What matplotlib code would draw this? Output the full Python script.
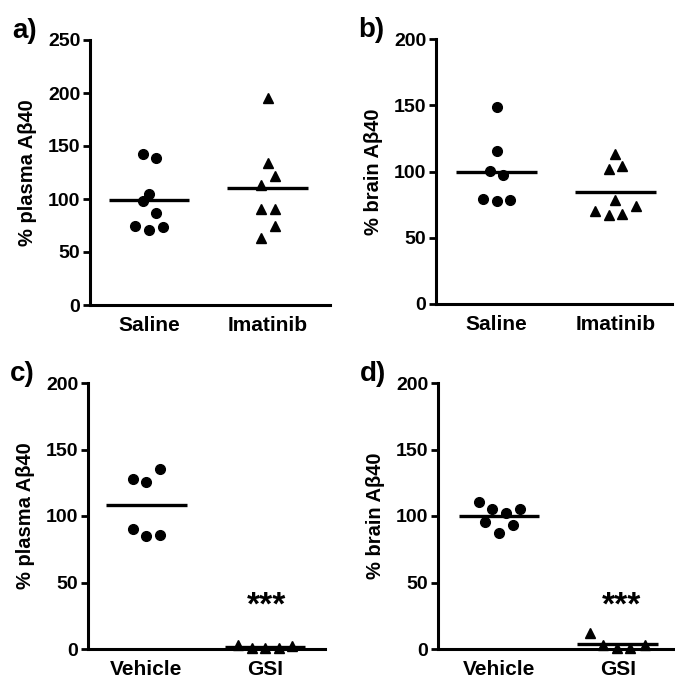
import numpy as np
import matplotlib
matplotlib.use('Agg')
import matplotlib.pyplot as plt

plt.rcParams['font.family'] = ['Liberation Sans', 'DejaVu Sans']
plt.rcParams['font.weight'] = 'bold'

# a) plasma, saline vs imatinib
a_saline = [142, 139, 105, 98, 87, 75, 71, 74]
a_saline_dx = [-0.056, 0.056, 0, -0.056, 0.056, -0.121, 0, 0.113]
a_imatinib = [195, 134, 122, 113, 91, 91, 74.5, 63.5]
a_imatinib_dx = [0, 0, 0.062, -0.056, -0.056, 0.062, 0.062, -0.056]

# b) brain, saline vs imatinib
b_saline = [148.4, 115.6, 100.5, 97, 79.6, 77.6, 78.8]
b_saline_dx = [0, 0, -0.056, 0.056, -0.113, 0, 0.113]
b_imatinib = [113, 102, 104.5, 78.6, 70.5, 67.2, 67.8, 73.6]
b_imatinib_dx = [0, -0.056, 0.056, 0, -0.169, -0.056, 0.056, 0.175]

# c) plasma, vehicle vs GSI
c_vehicle = [127.8, 125.8, 135.6, 90.5, 85, 85.7]
c_vehicle_dx = [-0.113, 0, 0.118, -0.113, 0, 0.118]
c_gsi = [3, 1, 0.5, 1, 2]
c_gsi_dx = [-0.228, -0.110, 0, 0.118, 0.228]

# d) brain, vehicle vs GSI
d_vehicle = [110.3, 105.3, 102.3, 105.5, 95.2, 93.5, 86.9]
d_vehicle_dx = [-0.172, -0.056, 0.056, 0.175, -0.115, 0.118, 0]
d_gsi = [12, 3, 1, 1, 3]
d_gsi_dx = [-0.231, -0.127, -0.011, 0.099, 0.225]

panels = [
    dict(rect=[90, 40, 330, 305], letter='a)', ylab='% plasma A\u03b240', ymax=250,
         yt=[0, 50, 100, 150, 200, 250], cats=['Saline', 'Imatinib'],
         groups=[(a_saline, a_saline_dx), (a_imatinib, a_imatinib_dx)],
         xlim=(-0.50, 1.527), stars=None),
    dict(rect=[436, 39, 672, 304], letter='b)', ylab='% brain A\u03b240', ymax=200,
         yt=[0, 50, 100, 150, 200], cats=['Saline', 'Imatinib'],
         groups=[(b_saline, b_saline_dx), (b_imatinib, b_imatinib_dx)],
         xlim=(-0.513, 1.479), stars=None),
    dict(rect=[88, 383, 325, 649], letter='c)', ylab='% plasma A\u03b240', ymax=200,
         yt=[0, 50, 100, 150, 200], cats=['Vehicle', 'GSI'],
         groups=[(c_vehicle, c_vehicle_dx), (c_gsi, c_gsi_dx)],
         xlim=(-0.493, 1.507), stars=(1.01, 32)),
    dict(rect=[438, 383, 673, 649], letter='d)', ylab='% brain A\u03b240', ymax=200,
         yt=[0, 50, 100, 150, 200], cats=['Vehicle', 'GSI'],
         groups=[(d_vehicle, d_vehicle_dx), (d_gsi, d_gsi_dx)],
         xlim=(-0.515, 1.465), stars=(1.03, 32)),
]

W, H = 675, 679
fig = plt.figure(figsize=(W / 100, H / 100), dpi=100)

for p in panels:
    x0, y0, x1, y1 = p['rect']
    ax = fig.add_axes([x0 / W, 1 - y1 / H, (x1 - x0) / W, (y1 - y0) / H])
    markers = ['o', '^']
    for i, (vals, dx) in enumerate(p['groups']):
        xs = i + np.array(dx)
        ax.plot(xs, vals, linestyle='none', marker=markers[i], color='black',
                markersize=7 if i == 0 else 7.5, clip_on=False, zorder=3)
        m = np.mean(vals)
        ax.plot([i - 0.34, i + 0.34], [m, m], color='black', lw=2.4, zorder=4,
                solid_capstyle='butt')
    ax.set_xlim(*p['xlim'])
    ax.set_ylim(0, p['ymax'])
    ax.set_yticks(p['yt'])
    ax.set_xticks([0, 1])
    ax.set_xticklabels(p['cats'], fontsize=15, fontweight='bold')
    ax.tick_params(axis='x', length=0, pad=8)
    ax.tick_params(axis='y', length=5, width=2, labelsize=14, pad=2)
    for lab in ax.get_yticklabels():
        lab.set_fontweight('bold')
    ax.spines['top'].set_visible(False)
    ax.spines['right'].set_visible(False)
    ax.spines['left'].set_linewidth(2.2)
    ax.spines['bottom'].set_linewidth(2.2)
    ax.set_ylabel(p['ylab'], fontsize=14.5, fontweight='bold', labelpad=7.5)
    if p['stars'] is not None:
        ax.text(p['stars'][0], p['stars'][1], '***', ha='center', va='center',
                fontsize=24, fontweight='bold')
    fig.text((x0 - 78) / W, 1 - (y0 - 9) / H, p['letter'], fontsize=20,
             fontweight='bold', ha='left', va='center')

fig.savefig('out.png', dpi=100)
